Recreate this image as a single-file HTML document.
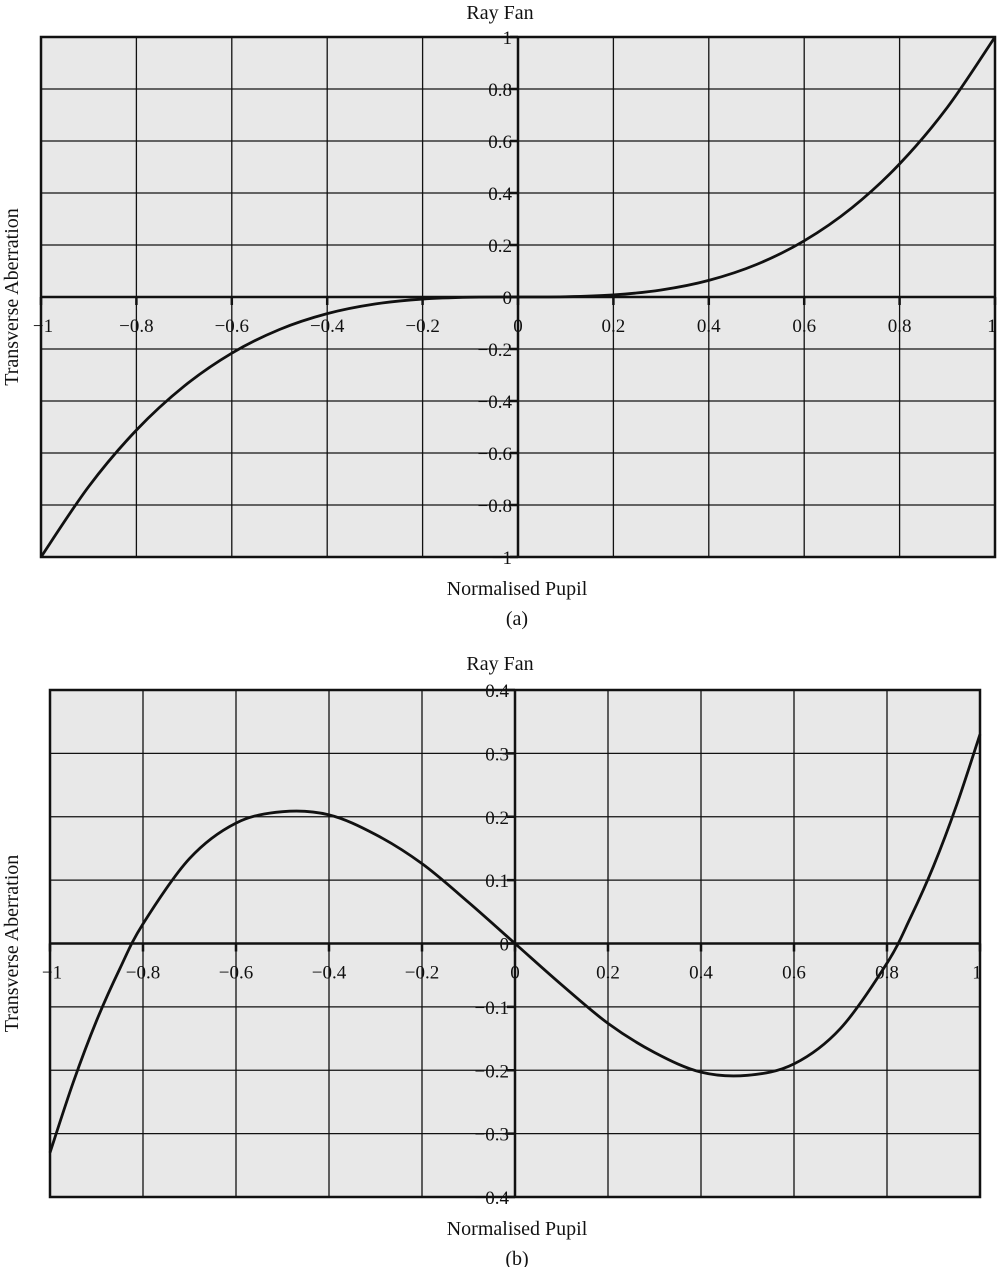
<!DOCTYPE html>
<html><head><meta charset="utf-8">
<style>
html,body{margin:0;padding:0;background:#fff;}
svg text{font-family:"Liberation Serif",serif;fill:#111;}
</style></head>
<body>
<svg id="svg" width="997" height="1267" viewBox="0 0 997 1267" xmlns="http://www.w3.org/2000/svg"></svg>
<script>
const xTicks = [-1,-0.8,-0.6,-0.4,-0.2,0,0.2,0.4,0.6,0.8,1];
const xTickLabels = ["\u22121","\u22120.8","\u22120.6","\u22120.4","\u22120.2","0","0.2","0.4","0.6","0.8","1"];
const yTicksA = [-1,-0.8,-0.6,-0.4,-0.2,0,0.2,0.4,0.6,0.8,1];
const yTickLabelsA = ["\u22121","\u22120.8","\u22120.6","\u22120.4","\u22120.2","0","0.2","0.4","0.6","0.8","1"];
const yTicksB = [-0.4,-0.3,-0.2,-0.1,0,0.1,0.2,0.3,0.4];
const yTickLabelsB = ["\u22120.4","\u22120.3","\u22120.2","\u22120.1","0","0.1","0.2","0.3","0.4"];
const pupilA = [-1,-0.9,-0.8,-0.7,-0.6,-0.5,-0.4,-0.3,-0.2,-0.1,0,0.1,0.2,0.3,0.4,0.5,0.6,0.7,0.8,0.9,1];
const aberrA = [-1,-0.729,-0.512,-0.343,-0.216,-0.125,-0.064,-0.027,-0.008,-0.001,0,0.001,0.008,0.027,0.064,0.125,0.216,0.343,0.512,0.729,1];
const pupilB = [-1,-0.95,-0.9,-0.85,-0.8,-0.7,-0.6,-0.5,-0.4,-0.3,-0.2,-0.1,0,0.1,0.2,0.3,0.4,0.5,0.6,0.7,0.8,0.85,0.9,0.95,1];
const aberrB = [-0.33,-0.219,-0.122,-0.04,0.031,0.134,0.19,0.208,0.203,0.172,0.126,0.065,0,-0.065,-0.126,-0.172,-0.203,-0.208,-0.19,-0.134,-0.031,0.04,0.122,0.219,0.33];

const svg = document.getElementById('svg');
const NS = 'http://www.w3.org/2000/svg';
function mk(tag, attrs, parent){const e=document.createElementNS(NS,tag);for(const k in attrs)e.setAttribute(k,attrs[k]);(parent||svg).appendChild(e);return e;}

function chart(cfg){
  const g = mk('g',{});
  
  
  const {L,R,T,B,ymin,ymax} = cfg;
  const sx = v => L + (v+1)/2*(R-L);
  const sy = v => B - (v-ymin)/(ymax-ymin)*(B-T);
  const bg = mk('rect',{x:L,y:T,width:R-L,height:B-T,fill:'#e8e8e8'},g);
  
  
  xTicks.forEach(v=>{ const l=mk('line',{x1:sx(v),x2:sx(v),y1:T,y2:B,stroke:'#111','stroke-width':1.3},g);
     });
  cfg.yTicks.forEach(v=>{ const l=mk('line',{x1:L,x2:R,y1:sy(v),y2:sy(v),stroke:'#111','stroke-width':1.3},g);
     });
  const zx=sx(0), zy=sy(0);
  const ax=mk('line',{x1:L,x2:R,y1:zy,y2:zy,stroke:'#111','stroke-width':2.5},g);
   
  const ay=mk('line',{x1:zx,x2:zx,y1:T,y2:B,stroke:'#111','stroke-width':2.5},g);
   
  const fr=mk('rect',{x:L,y:T,width:R-L,height:B-T,fill:'none',stroke:'#111','stroke-width':2.5},g);
   
  // x ticks and labels
  xTicks.forEach((v,i)=>{
    const tk=mk('line',{x1:sx(v),x2:sx(v),y1:zy,y2:zy+8,stroke:'#111','stroke-width':2.5},g);
     
    let x=sx(v), anchor='middle';
    if(i===0){x=sx(v)+2;} if(i===xTicks.length-1){x=sx(v)-3;}
    const t=mk('text',{x:x,y:zy+35,'font-size':19,'text-anchor':anchor},g);
    t.textContent=xTickLabels[i];
     
  });
  cfg.yTicks.forEach((v,i)=>{
    const tk=mk('line',{x1:zx-8,x2:zx,y1:sy(v),y2:sy(v),stroke:'#111','stroke-width':2.5},g);
     
    const t=mk('text',{x:zx-6,y:sy(v)+7,'font-size':19,'text-anchor':'end'},g);
    t.textContent=cfg.yLabels[i];
     
  });
  // curve (Catmull-Rom)
  const P = cfg.xs.map((x,i)=>[sx(x),sy(cfg.ys[i])]);
  let d='M'+P[0][0]+','+P[0][1];
  for(let i=0;i<P.length-1;i++){
    const p0=P[Math.max(0,i-1)],p1=P[i],p2=P[i+1],p3=P[Math.min(P.length-1,i+2)];
    const c1=[p1[0]+(p2[0]-p0[0])/6,p1[1]+(p2[1]-p0[1])/6];
    const c2=[p2[0]-(p3[0]-p1[0])/6,p2[1]-(p3[1]-p1[1])/6];
    d+=' C'+c1+' '+c2+' '+p2;
  }
  const c=mk('path',{d:d,fill:'none',stroke:'#111','stroke-width':2.8},g);
   
  const tt=mk('text',{x:cfg.titleX,y:cfg.titleY,'font-size':20,'text-anchor':'middle'},g);
  tt.textContent='Ray Fan';
   
  const xt=mk('text',{x:cfg.titleX+17,y:B+38,'font-size':20,'text-anchor':'middle'},g);
  xt.textContent='Normalised Pupil';
   
  const cap=mk('text',{x:cfg.titleX+17,y:B+68,'font-size':20,'text-anchor':'middle'},g);
  cap.textContent=cfg.caption;
   
  const yc=(T+B)/2;
  const yt=mk('text',{x:0,y:0,'font-size':20,'text-anchor':'middle',transform:'translate(18,'+yc+') rotate(-90)'},g);
  yt.textContent='Transverse Aberration';
   
}
chart({name:'chart-a',L:41,R:995,T:37,B:557,ymin:-1,ymax:1,yTicks:yTicksA,yLabels:yTickLabelsA,xs:pupilA,ys:aberrA,titleX:500,titleY:19,caption:'(a)'});
chart({name:'chart-b',L:50,R:980,T:690,B:1197,ymin:-0.4,ymax:0.4,yTicks:yTicksB,yLabels:yTickLabelsB,xs:pupilB,ys:aberrB,titleX:500,titleY:670,caption:'(b)'});
</script>
</body></html>
